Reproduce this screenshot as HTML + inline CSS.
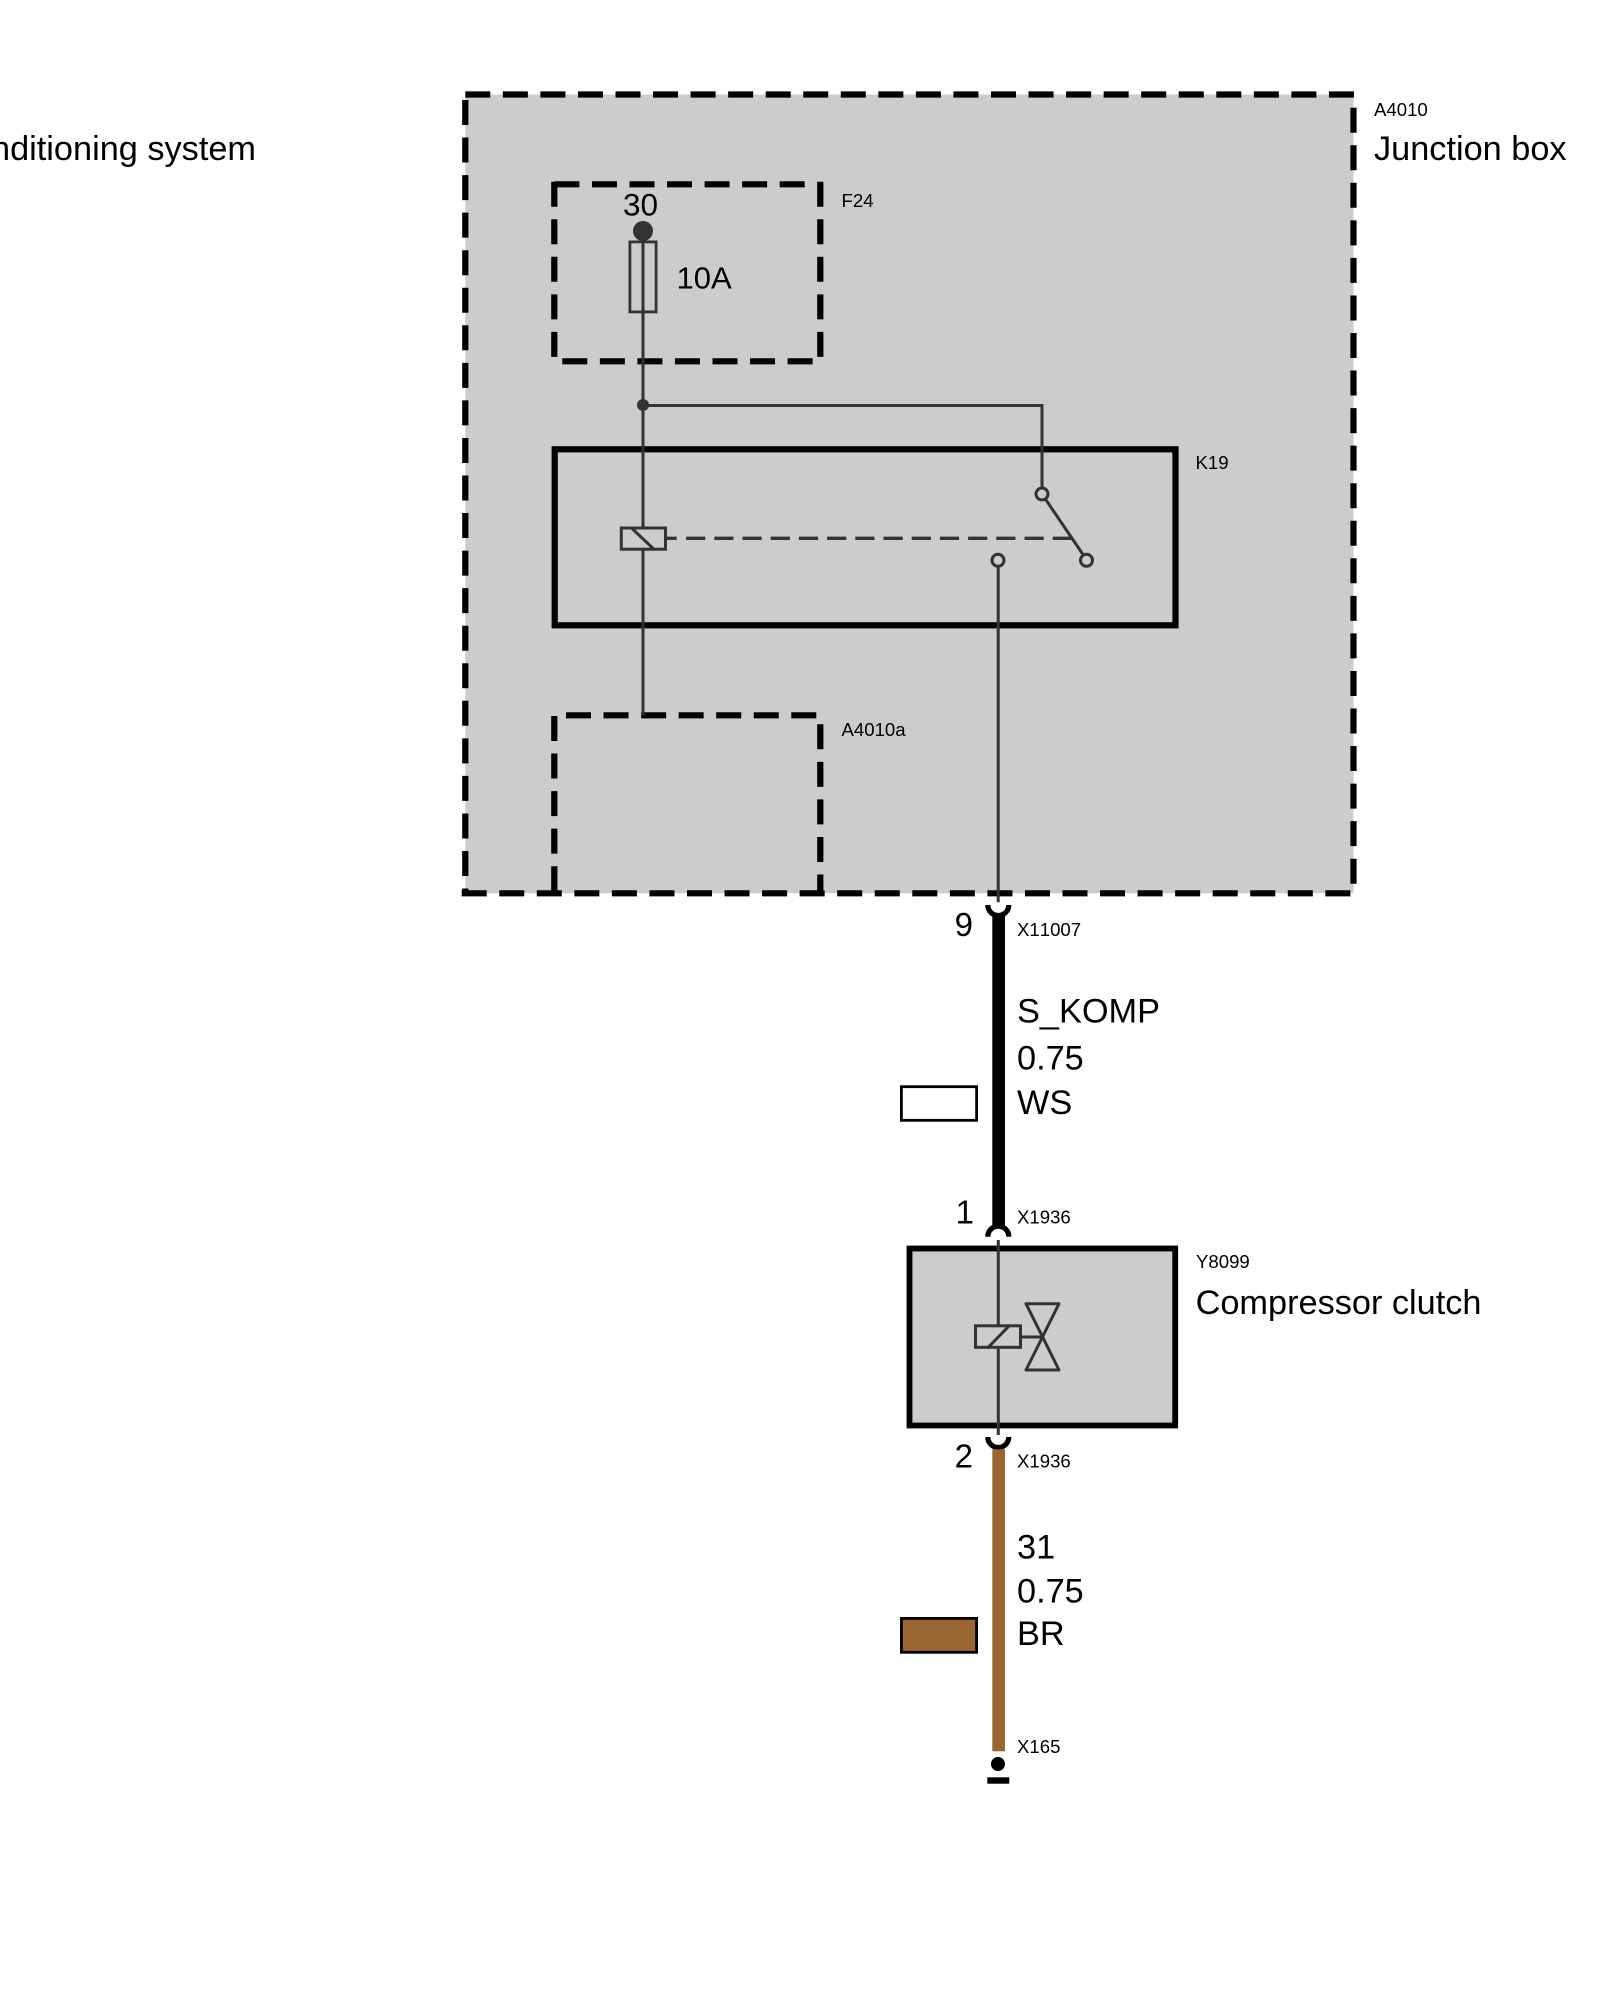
<!DOCTYPE html>
<html>
<head>
<meta charset="utf-8">
<style>
html,body{margin:0;padding:0;background:#fff;width:1600px;height:2000px;overflow:hidden}
svg{display:block}
text{font-family:"Liberation Sans",sans-serif;fill:#000;font-kerning:none}
.s{font-size:18.6px}
.l{font-size:34.3px}
.d{fill:none;stroke:#000;stroke-width:6.2;stroke-dasharray:25 12.55}
.w{fill:none;stroke:#333;stroke-width:3}
</style>
</head>
<body>
<svg width="1600" height="2000" viewBox="0 0 1600 2000" xmlns="http://www.w3.org/2000/svg">
<rect width="1600" height="2000" fill="#fff"/>
<rect x="465.3" y="94.5" width="888.2" height="798.8" fill="#ccc"/>

<!-- outer junction box -->
<path class="d" d="M465.3 94.5H1356"/>
<path class="d" d="M461.7 893.3H1356"/>
<path class="d" d="M465.3 100V893"/>
<path class="d" d="M1353.5 107.7V893"/>

<!-- F24 -->
<path class="d" d="M554.4 184.3H806"/>
<path class="d" d="M554.3 181.7V357"/>
<path class="d" d="M820.3 181.7V357"/>
<path class="d" d="M562.3 361.3H813"/>

<!-- A4010a -->
<path class="d" d="M566 715.3H817"/>
<path class="d" d="M554.3 716V893"/>
<path class="d" d="M820.3 724.3V893"/>

<!-- K19 -->
<rect x="554.7" y="449.3" width="620.8" height="176" fill="none" stroke="#000" stroke-width="6.2"/>

<!-- wires and fuse -->
<circle cx="643" cy="231" r="10" fill="#333"/>
<rect x="629.9" y="241.9" width="26.2" height="70" fill="none" stroke="#333" stroke-width="2.8"/>
<path class="w" d="M643 231V715.3"/>
<circle cx="643" cy="405" r="6" fill="#333"/>
<path class="w" d="M643 405.5H1042V488"/>

<!-- relay -->
<rect x="621.3" y="528" width="44.2" height="21.2" fill="#ccc" stroke="#333" stroke-width="3"/>
<path class="w" d="M631.8 528.3L653.5 548.8"/>
<path d="M666 538.3H676.7" fill="none" stroke="#333" stroke-width="3.3"/>
<path d="M686.1 538.3H1071" fill="none" stroke="#333" stroke-width="3.3" stroke-dasharray="19.2 9"/>
<circle cx="1042" cy="494" r="6" fill="none" stroke="#333" stroke-width="3"/>
<circle cx="1086.5" cy="560.3" r="6" fill="none" stroke="#333" stroke-width="3"/>
<circle cx="998" cy="560.3" r="6" fill="none" stroke="#333" stroke-width="3"/>
<path class="w" d="M1046 500L1083 554.5"/>
<path class="w" d="M998.2 566.3V902.3"/>

<!-- connector 9 + black wire -->
<path d="M987.8 905A10.5 10.5 0 0 0 1008.8 905" fill="none" stroke="#000" stroke-width="5.2"/>
<rect x="992.3" y="913" width="12.7" height="315" fill="#000"/>
<path d="M987.8 1236.7A10.5 10.5 0 0 1 1008.8 1236.7" fill="none" stroke="#000" stroke-width="5.2"/>

<!-- Y8099 -->
<rect x="909.5" y="1248.5" width="265.7" height="177" fill="#ccc" stroke="#000" stroke-width="5.8"/>
<path class="w" d="M998.3 1240V1435"/>
<rect x="975.5" y="1325.8" width="45" height="21.5" fill="#ccc" stroke="#333" stroke-width="3"/>
<path class="w" d="M987.3 1348.3L1010 1325"/>
<path class="w" d="M1021 1337H1042.5"/>
<path d="M1026 1303.7H1059L1026 1370H1059Z" fill="none" stroke="#333" stroke-width="3" stroke-linejoin="round"/>

<!-- connector 2 + brown wire -->
<path d="M987.8 1437A10.5 10.5 0 0 0 1008.8 1437" fill="none" stroke="#000" stroke-width="5.2"/>
<rect x="992.3" y="1449.3" width="12.7" height="302" fill="#996633"/>
<circle cx="998" cy="1764" r="7" fill="#000"/>
<rect x="987.3" y="1777.3" width="22" height="6.4" fill="#000"/>

<!-- colour swatches -->
<rect x="901.4" y="1086.7" width="75.2" height="33.6" fill="#fff" stroke="#000" stroke-width="2.8"/>
<rect x="901.4" y="1618.4" width="75.2" height="33.9" fill="#996633" stroke="#000" stroke-width="2.8"/>

<!-- labels -->
<text class="l" x="256" y="160" text-anchor="end">Air conditioning system</text>
<text class="s" x="1374" y="116">A4010</text>
<text class="l" x="1374" y="160">Junction box</text>
<text class="s" x="841.5" y="207">F24</text>
<text x="640.5" y="215.3" text-anchor="middle" style="font-size:31.5px">30</text>
<text x="676.5" y="288.3" style="font-size:31px">10A</text>
<text class="s" x="1195.5" y="469">K19</text>
<text class="s" x="841.5" y="736">A4010a</text>
<text x="973" y="936" text-anchor="end" style="font-size:33px">9</text>
<text class="s" x="1017" y="936">X11007</text>
<text class="l" x="1017" y="1022.7">S_KOMP</text>
<text class="l" x="1017" y="1069.3">0.75</text>
<text class="l" x="1017" y="1114">WS</text>
<text x="974" y="1223.3" text-anchor="end" style="font-size:33px">1</text>
<text class="s" x="1017" y="1223.3">X1936</text>
<text class="s" x="1196" y="1268">Y8099</text>
<text class="l" x="1195.6" y="1314">Compressor clutch</text>
<text x="973" y="1467.7" text-anchor="end" style="font-size:33px">2</text>
<text class="s" x="1017" y="1467.7">X1936</text>
<text class="l" x="1017" y="1558.3">31</text>
<text class="l" x="1017" y="1602.3">0.75</text>
<text class="l" x="1017" y="1645">BR</text>
<text class="s" x="1017" y="1753">X165</text>
</svg>
</body>
</html>
